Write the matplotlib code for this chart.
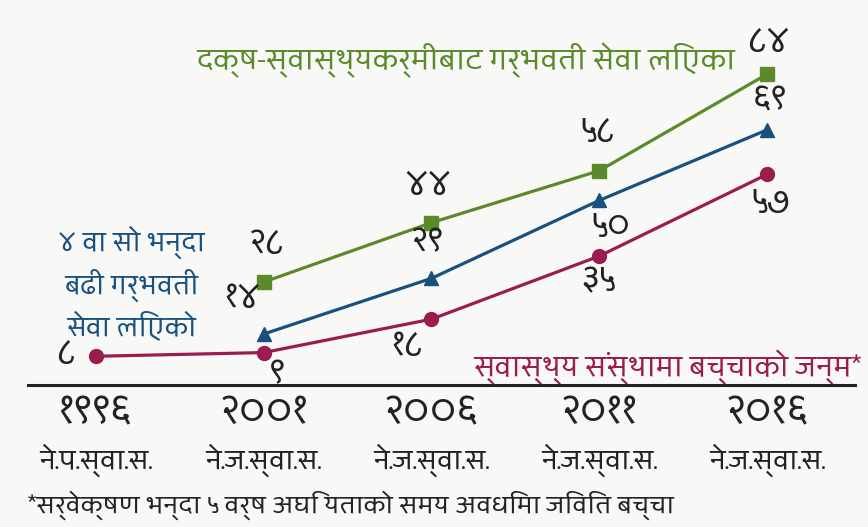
import os
import numpy as np
import matplotlib
matplotlib.use('Agg')
import matplotlib.pyplot as plt
from matplotlib import font_manager as fm

# data (Nepal DHS surveys)
years = ['१९९६', '२००१', '२००६', '२०११', '२०१६']
surveys = ['ने.प.स्वा.स.', 'ने.ज.स्वा.स.', 'ने.ज.स्वा.स.', 'ने.ज.स्वा.स.', 'ने.ज.स्वा.स.']
skilled = [np.nan, 28, 44, 58, 84]
anc4 = [np.nan, 14, 29, 50, 69]
facility = [8, 9, 18, 35, 57]
skilled_lbl = ['', '२८', '४४', '५८', '८४']
anc4_lbl = ['', '१४', '२९', '५०', '६९']
facility_lbl = ['८', '९', '१८', '३५', '५७']

# pick a font with devanagari glyphs
wanted = ['NotoSansDevanagari-Regular.ttf', 'Palanquin-Regular.ttf', 'Amiko-Regular.ttf',
          'Sarala-Regular.ttf', 'Jaldi-Regular.ttf']
found = {}
for f in fm.findSystemFonts():
    found[os.path.basename(f)] = f
dev_path = None
for w in wanted:
    if w in found:
        dev_path = found[w]
        break


def fp(size):
    if dev_path:
        return fm.FontProperties(fname=dev_path, size=size)
    return fm.FontProperties(family='DejaVu Sans', size=size)


green = '#5b8a2b'
blue = '#18507e'
magenta = '#9b1c4f'
bg = '#f8f9f7'

fig = plt.figure(figsize=(8.68, 5.27), dpi=100, facecolor=bg)
ax = fig.add_axes([0, 0, 1, 1])
ax.set_facecolor(bg)
ax.set_xlim(-0.572, 4.602)
ax.set_ylim(-38, 104)
ax.axis('off')

x = np.arange(len(years))
ax.plot(x, skilled, color=green, lw=2.3, marker='s', ms=10)
ax.plot(x, anc4, color=blue, lw=2.3, marker='^', ms=10)
ax.plot(x, facility, color=magenta, lw=2.3, marker='o', ms=10)

# value labels, offsets in pixels
off_s = [(0, 0), (3, 38), (-4, 37), (-2, 38), (1, 32)]
off_a = [(0, 0), (-21, 36), (-4, 36), (11, -27), (3, 29)]
off_f = [(-30, 2), (13, -22), (-24, -27), (-1, -26), (3, -29)]
for vals, lbls, offs in [(skilled, skilled_lbl, off_s), (anc4, anc4_lbl, off_a),
                         (facility, facility_lbl, off_f)]:
    for i in range(len(years)):
        if lbls[i]:
            ax.annotate(lbls[i], (x[i], vals[i]), xytext=offs[i], textcoords='offset pixels',
                        ha='center', va='center', fontproperties=fp(24), color='#222222')

# baseline
ax.axhline(0.2, xmin=0.032, xmax=0.985, color='#222222', lw=2.2)

# category labels under the line
for i in range(len(years)):
    ax.text(x[i], -7.5, years[i], ha='center', va='center', fontproperties=fp(28), color='#222222')
    ax.text(x[i], -20, surveys[i], ha='center', va='center', fontproperties=fp(19), color='#222222')

ax.text(0.032, 0.042, '*सर्वेक्षण भन्दा ५ वर्ष अघि यताको समय अवधिमा जिवित बच्चा',
        transform=ax.transAxes, ha='left', va='center', fontproperties=fp(17.5), color='#222222')

# series captions
ax.text(0.2265, 0.885, 'दक्ष-स्वास्थ्यकर्मीबाट गर्भवती सेवा लिएका', transform=ax.transAxes,
        ha='left', va='center', fontproperties=fp(20.3), color=green)
ax.text(0.152, 0.462, '४ वा सो भन्दा\nबढी गर्भवती\nसेवा लिएको', transform=ax.transAxes,
        ha='center', va='center', linespacing=1.38, fontproperties=fp(18.5), color=blue)
ax.text(0.545, 0.302, 'स्वास्थ्य संस्थामा बच्चाको जन्म*', transform=ax.transAxes,
        ha='left', va='center', fontproperties=fp(20), color=magenta)

fig.savefig('out.png', dpi=100, facecolor=bg)
